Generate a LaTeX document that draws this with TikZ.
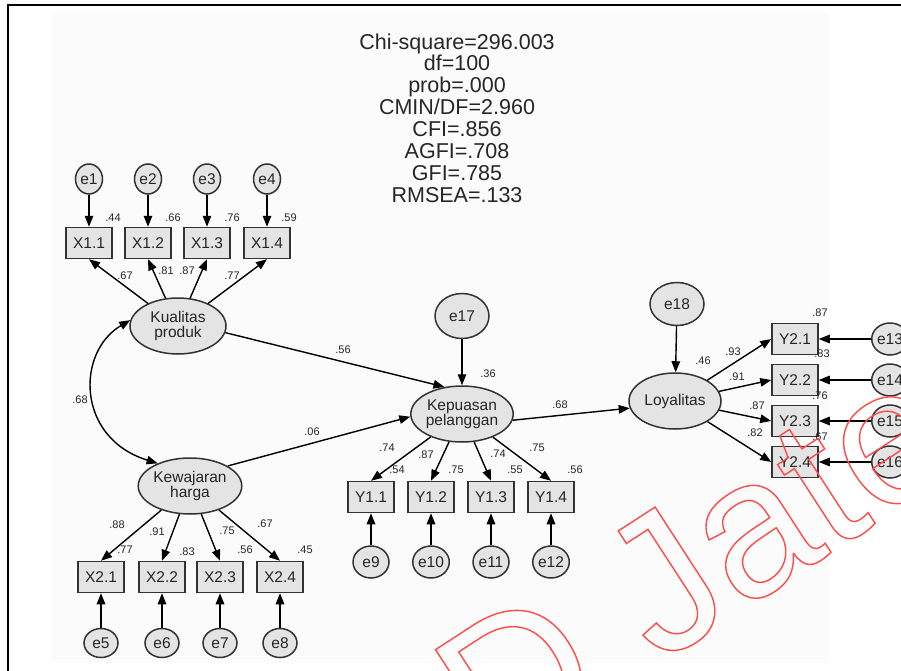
\documentclass[tikz,border=0pt]{standalone}
\usepackage{fontspec}
\setmainfont{Liberation Sans}
\usetikzlibrary{shapes.geometric,arrows.meta}
\definecolor{nodefill}{HTML}{E4E4E4}
\definecolor{nodeline}{HTML}{333333}
\definecolor{txt}{HTML}{262626}
\definecolor{panel}{HTML}{FBFBFB}
\definecolor{wmred}{HTML}{FF4A4A}
\newcommand{\outlinetext}[1]{\special{pdf:literal direct 1.4 w 1 Tr}#1\special{pdf:literal direct 0 Tr 1 w}}
\tikzset{
  obs/.style={draw=nodeline, fill=nodefill, line width=1.5pt, minimum width=46pt, minimum height=31pt, inner sep=0pt, font=\fontsize{15.5}{15.5}\selectfont, text=txt},
  lat/.style={ellipse, draw=nodeline, fill=nodefill, line width=1.5pt, minimum width=96pt, minimum height=56pt, inner sep=0pt, align=center, font=\fontsize{15.5}{15}\selectfont, text=txt},
  err/.style={ellipse, draw=nodeline, fill=nodefill, line width=1.5pt, inner sep=0pt, font=\fontsize{15.5}{15.5}\selectfont, text=txt},
  errA/.style={err, minimum width=27pt, minimum height=30pt},
  errB/.style={err, minimum width=34pt, minimum height=29pt},
  errC/.style={err, minimum width=36pt, minimum height=32pt},
  errD/.style={err, minimum width=54pt, minimum height=45pt},
  errE/.style={err, minimum width=34pt, minimum height=32pt},
  lbl/.style={font=\fontsize{11}{11}\selectfont, text=txt, inner sep=0pt},
  arr/.style={-{Triangle[length=11pt,width=8.5pt]}, line width=1.4pt, black},
  dbl/.style={{Triangle[length=11pt,width=8.5pt]}-{Triangle[length=11pt,width=8.5pt]}, line width=1.4pt, black},
}
\begin{document}
\begin{tikzpicture}[x=1pt,y=-1pt]
\useasboundingbox (0,0) rectangle (901,671);
\fill[white] (0,0) rectangle (901,671);
\fill[panel] (52,13) rectangle (829,663);
\draw[line width=2pt, black] (8,671) -- (8,5) -- (901,5);

% fit statistics
\node[font=\fontsize{21.5}{21.9}\selectfont, text=txt, align=center, inner sep=0pt] (stats) at (457,118)
 {Chi-square=296.003\\df=100\\prob=.000\\CMIN/DF=2.960\\CFI=.856\\AGFI=.708\\GFI=.785\\RMSEA=.133};

% Kualitas produk block
\node[lat] (KP) at (178,326) {Kualitas\\produk};
\foreach \i/\x in {1/89,2/148,3/207,4/267}{
  \node[obs] (X1\i) at (\x,243) {X1.\i};
  \node[errA] (e\i) at (\x,179) {e\i};
  \draw[arr] (e\i) -- (X1\i);
  \draw[arr] (KP) -- (X1\i.south);
}

% Kewajaran harga block
\node[lat] (KH) at (190,486) {Kewajaran\\harga};
\foreach \i/\x/\e in {1/101/5,2/162/6,3/220/7,4/280/8}{
  \node[obs] (X2\i) at (\x,577) {X2.\i};
  \node[errB] (e\e) at (\x,643) {e\e};
  \draw[arr] (e\e) -- (X2\i);
  \draw[arr] (KH) -- (X2\i.north);
}

% Kepuasan pelanggan block
\node[lat] (KPL) at (462,414) {Kepuasan\\pelanggan};
\node[errD] (e17) at (462,316) {e17};
\draw[arr] (e17) -- (KPL);
\foreach \i/\x/\e in {1/371/9,2/431/10,3/491/11,4/551/12}{
  \node[obs] (Y1\i) at (\x,497) {Y1.\i};
  \node[errC] (e\e) at (\x,562) {e\e};
  \draw[arr] (e\e) -- (Y1\i);
  \draw[arr] (KPL) -- (Y1\i.north);
}

% Loyalitas block
\node[lat, minimum width=92pt] (LOY) at (675,401) {Loyalitas};
\node[errD, minimum height=43pt] (e18) at (677,304) {e18};
\draw[arr] (e18) -- (LOY);
\foreach \i/\y/\e in {1/339/13,2/380/14,3/421/15,4/462/16}{
  \node[obs] (Y2\i) at (795,\y) {Y2.\i};
  \node[errE] (e\e) at (890,\y) {e\e};
  \draw[arr] (e\e) -- (Y2\i);
  \draw[arr] (LOY) -- (Y2\i.west);
}

% structural paths
\draw[arr] (KP.-8) -- (KPL.123);
\draw[arr] (KH.28) -- (KPL.183);
\draw[arr] (KPL.-7) -- (LOY.189);
\draw[dbl] (KP.173) .. controls (76,352) and (76,438) .. (KH.145);

% labels
\foreach \n/\t/\x/\y in {a1/.44/113/218, a2/.66/173/218, a3/.76/232/218, a4/.59/289/218,
  b1/.67/125/276, b2/.81/166/271, b3/.87/187/271, b4/.77/232/276,
  cv/.68/80/400, p1/.56/343/350, p2/.06/312/432, r1/.36/488/374,
  c1/.74/387/448, c2/.87/426/455, c3/.74/498/454, c4/.75/537/448,
  d1/.54/397/470, d2/.75/456/470, d3/.55/515/470, d4/.56/575/470,
  f1/.88/117/525, f2/.91/157/532, f3/.75/227/531, f4/.67/265/524,
  g1/.77/125/550, g2/.83/187/552, g3/.56/245/550, g4/.45/305/550,
  p3/.68/560/405, r2/.46/703/361,
  h1/.93/733/352, h2/.91/737/377, h3/.87/757/406, h4/.82/755/433,
  k1/.87/820/313, k2/.83/822/354, k3/.76/820/396, k4/.67/820/437}{
  \node[lbl] (lab\n) at (\x,\y) {\t};
}

% watermark
\begin{scope}
\clip (0,0) rectangle (901,671);
\node[rotate=33, anchor=base west, inner sep=0pt, text=wmred, font=\fontsize{195}{195}\selectfont] (wm) at (495,771)
 {\outlinetext{D Jateng}};
\end{scope}
\end{tikzpicture}
\end{document}
